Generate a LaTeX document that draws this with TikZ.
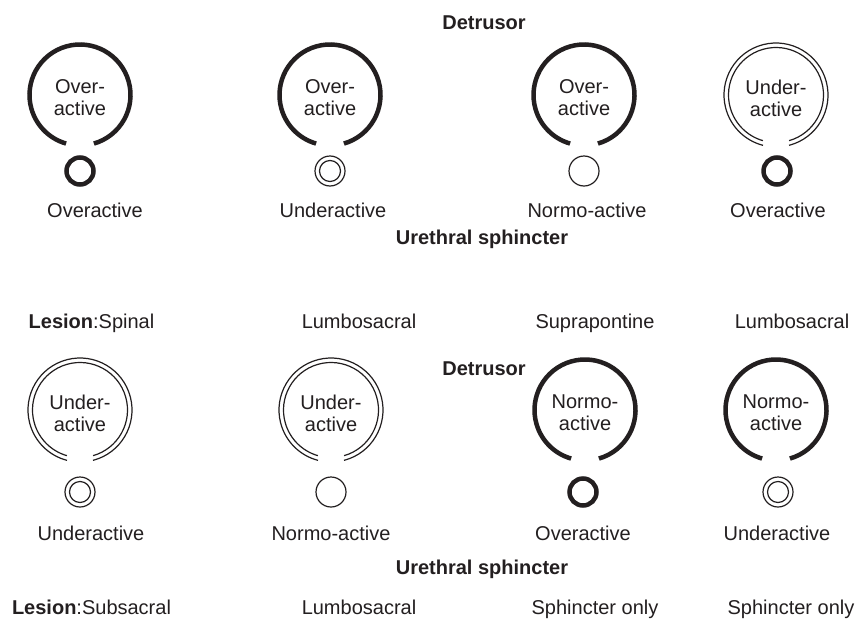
\documentclass[tikz,border=0pt]{standalone}
\usepackage{fontspec}
\setmainfont{Liberation Sans}
\usetikzlibrary{calc}
\definecolor{ink}{HTML}{231F20}
\tikzset{
  thickarc/.style={draw=ink, line width=4.5pt},
  thinarc/.style={draw=ink, line width=1.2pt},
  lab/.style={font=\fontsize{20}{22}\selectfont, text=ink, inner sep=0pt, anchor=base},
  head/.style={lab, font=\fontsize{20}{22}\selectfont\bfseries},
  intext/.style={font=\fontsize{20}{22}\selectfont, text=ink, inner sep=0pt, align=center, anchor=center},
}
\newcommand\detThick[1]{\draw[thickarc] (#1) ++(-74:50.5pt) arc[start angle=-74, end angle=254, radius=50.5pt];}
\newcommand\detDouble[1]{%
  \draw[thinarc] (#1) ++(-75.5:52pt) arc[start angle=-75.5, end angle=255.5, radius=52pt];
  \draw[thinarc] (#1) ++(-74:47.5pt) arc[start angle=-74, end angle=254, radius=47.5pt];}
\newcommand\sphThick[1]{\draw[thickarc] (#1) circle[radius=13.5pt];}
\newcommand\sphDouble[1]{\draw[thinarc] (#1) circle[radius=15pt] (#1) circle[radius=10.5pt];}
\newcommand\sphThin[1]{\draw[thinarc] (#1) circle[radius=15pt];}
\begin{document}
\begin{tikzpicture}[x=1pt, y=-1pt]
\useasboundingbox[fill=white] (0,0) rectangle (858,621);
% ---------- top panel ----------
\node[head] (detA) at (484,29) {Detrusor};
\coordinate (d1) at (80,95);  \coordinate (d2) at (330,95);
\coordinate (d3) at (584,95); \coordinate (d4) at (776,95);
\coordinate (s1) at (80,171); \coordinate (s2) at (330,171);
\coordinate (s3) at (584,171); \coordinate (s4) at (777,171);
\detThick{d1} \detThick{d2} \detThick{d3} \detDouble{d4}
\node[intext] (t1) at ($(d1)+(0,3)$) {Over-\\active};
\node[intext] (t2) at ($(d2)+(0,3)$) {Over-\\active};
\node[intext] (t3) at ($(d3)+(0,3)$) {Over-\\active};
\node[intext] (t4) at ($(d4)+(0,3)$) {Under-\\active};
\sphThick{s1} \sphDouble{s2} \sphThin{s3} \sphThick{s4}
\node[lab] (l1) at (95,217) {Overactive};
\node[lab] (l2) at (333,217) {Underactive};
\node[lab] (l3) at (587,217) {Normo-active};
\node[lab] (l4) at (778,217) {Overactive};
\node[head] (ureA) at (482,244) {Urethral sphincter};
\node[lab] (les1) at (91.5,328) {\textbf{Lesion}:Spinal};
\node[lab] (les2) at (359,328) {Lumbosacral};
\node[lab] (les3) at (595,328) {Suprapontine};
\node[lab] (les4) at (792,328) {Lumbosacral};
% ---------- bottom panel ----------
\node[head] (detB) at (484,375) {Detrusor};
\coordinate (d5) at (80,410);  \coordinate (d6) at (331,410);
\coordinate (d7) at (585,410); \coordinate (d8) at (776,410);
\coordinate (s5) at (80,492); \coordinate (s6) at (331,492);
\coordinate (s7) at (583,492); \coordinate (s8) at (778,492);
\detDouble{d5} \detDouble{d6} \detThick{d7} \detThick{d8}
\node[intext] (t5) at ($(d5)+(0,3)$) {Under-\\active};
\node[intext] (t6) at ($(d6)+(0,3)$) {Under-\\active};
\node[intext] (t7) at ($(d7)+(0,3)$) {Normo-\\active};
\node[intext] (t8) at ($(d8)+(0,3)$) {Normo-\\active};
\sphDouble{s5} \sphThin{s6} \sphThick{s7} \sphDouble{s8}
\node[lab] (l5) at (91,540) {Underactive};
\node[lab] (l6) at (331,540) {Normo-active};
\node[lab] (l7) at (583,540) {Overactive};
\node[lab] (l8) at (777,540) {Underactive};
\node[head] (ureB) at (482,574) {Urethral sphincter};
\node[lab] (les5) at (91.5,614) {\textbf{Lesion}:Subsacral};
\node[lab] (les6) at (359,614) {Lumbosacral};
\node[lab] (les7) at (595,614) {Sphincter only};
\node[lab] (les8) at (791,614) {Sphincter only};
\end{tikzpicture}
\end{document}
